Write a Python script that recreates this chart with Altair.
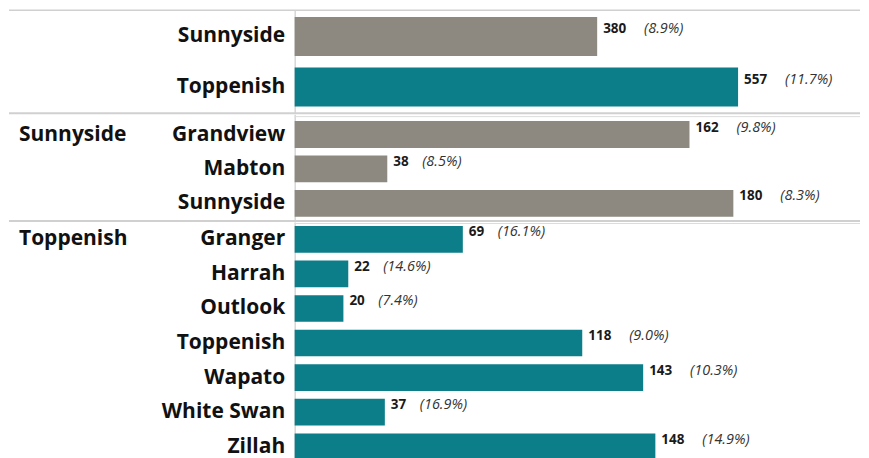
import altair as alt
import pandas as pd

GREY = "#8d8980"
TEAL = "#0b7e89"

# Section 1: school districts
district_names = ["Sunnyside", "Toppenish"]
district_values = [380, 557]
district_pct = [8.9, 11.7]
district_color = ["Sunnyside", "Toppenish"]

# Section 2: Sunnyside district cities
sunny_group = "Sunnyside"
sunny_names = ["Grandview", "Mabton", "Sunnyside"]
sunny_values = [162, 38, 180]
sunny_pct = [9.8, 8.5, 8.3]

# Section 3: Toppenish district cities
topp_group = "Toppenish"
topp_names = ["Granger", "Harrah", "Outlook", "Toppenish", "Wapato", "White Swan", "Zillah"]
topp_values = [69, 22, 20, 118, 143, 37, 148]
topp_pct = [16.1, 14.6, 7.4, 9.0, 10.3, 16.9, 14.9]

W = 566
LEFT = 286
RIGHT = 566
FONT = "Open Sans"


def make_df(names, values, pct, colors, group):
    df = pd.DataFrame({"name": names, "value": values, "pct": pct, "color": colors})
    df["val_txt"] = df["value"].astype(str)
    df["pct_txt"] = df["pct"].map(lambda p: f"({p:.1f}%)")
    df["ndig"] = df["val_txt"].str.len()
    df["grp"] = [group if i == 0 else "" for i in range(len(df))]
    return df


def panel(df, names, dmax, height, pi, po, align, rules):
    base = alt.Chart(df)
    x = alt.X("value:Q", scale=alt.Scale(domain=[0, dmax], nice=False, zero=True), axis=None)
    y = alt.Y(
        "name:N",
        sort=names,
        scale=alt.Scale(paddingInner=pi, paddingOuter=po, align=align),
        axis=alt.Axis(
            title=None, ticks=False, grid=False, labelFont=FONT, labelFontSize=21,
            labelFontWeight="bold", labelColor="#111111", labelPadding=10, labelLimit=0,
            domainColor="#cccccc", domainWidth=1.2,
        ),
    )
    bars = base.mark_bar().encode(
        x=x, y=y,
        color=alt.Color("color:N", scale=alt.Scale(domain=["Sunnyside", "Toppenish"], range=[GREY, TEAL]), legend=None),
    )
    vals = base.mark_text(align="left", baseline="middle", dx=6, dy=-7, font=FONT,
                          fontSize=13.5, fontWeight="bold", color="#1a1a1a").encode(
        x=x, y=y, text="val_txt:N")
    layers = [bars, vals]
    for nd, off in [(2, 35), (3, 47)]:
        layers.append(
            base.transform_filter(alt.datum.ndig == nd).mark_text(
                align="left", baseline="middle", dx=off, dy=-7, font=FONT, fontSize=14.5,
                fontStyle="italic", color="#333333").encode(x=x, y=y, text="pct_txt:N")
        )
    grp = base.transform_filter(alt.datum.grp != "").mark_text(
        align="left", baseline="middle", font=FONT, fontSize=21, fontWeight="bold", color="#111111"
    ).encode(x=alt.value(-LEFT + 10), y=y, text="grp:N")
    layers.append(grp)
    one = pd.DataFrame({"k": [0]})
    for (yy, x1, sw, col) in rules:
        layers.append(
            alt.Chart(one).mark_rule(color=col, strokeWidth=sw).encode(
                x=alt.value(x1), x2=alt.value(RIGHT), y=alt.value(yy))
        )
    return alt.layer(*layers).properties(width=W, height=height)


d1 = make_df(district_names, district_values, district_pct, district_color, "")
d2 = make_df(sunny_names, sunny_values, sunny_pct, [sunny_group] * 3, sunny_group)
d3 = make_df(topp_names, topp_values, topp_pct, [topp_group] * 7, topp_group)

p1 = panel(d1, district_names, W / 0.797, 103, 0.229, 0.132, 0.5,
           [(0, -LEFT, 1.5, "#d0d0d0"), (103, -LEFT, 2, "#d0d0d0")])
p2 = panel(d2, sunny_names, W / 2.44, 107, 0.223, 0.162, 0.625,
           [(2.5, 0, 1, "#dcdcdc"), (107, -LEFT, 2, "#d0d0d0")])
p3 = panel(d3, topp_names, W / 2.44, 240, 0.23, 0.083, 0.70,
           [(1.5, 0, 1, "#dcdcdc")])

chart = alt.vconcat(p1, p2, p3, spacing=0).resolve_scale(
    x="independent", y="independent"
).properties(
    padding={"top": 1, "left": 0, "right": 0, "bottom": 0}
).configure_view(stroke=None).configure_concat(spacing=0)

chart.save("out.html", embed_options={"renderer": "svg", "actions": False})
